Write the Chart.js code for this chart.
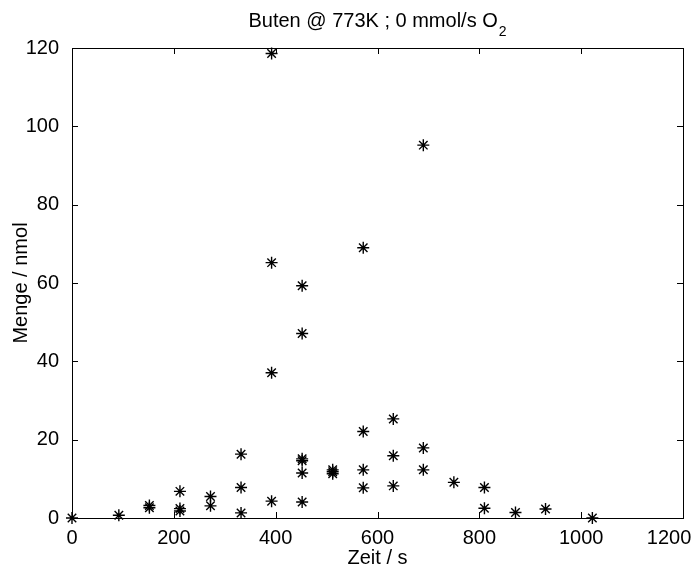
<!DOCTYPE html>
<html>
<head>
<meta charset="utf-8">
<script src="https://cdn.jsdelivr.net/npm/chart.js@4"></script>
<style>
html,body{margin:0;padding:0;background:#fff;}
#wrap{width:696px;height:570px;}
</style>
</head>
<body>
<div id="wrap"><canvas id="c" width="696" height="570"></canvas></div>
<script>
// measured points, time in s / amount in nmol
const zeit=[0,92,152,152,212,212,212,272,272,332,332,332,392,392,392,392,452,452,452,452,452,452,512,512,512,572,572,572,572,631,631,631,690,690,690,750,810,810,871,930,1022];
const menge=[0,0.7,3.2,2.6,6.8,2.4,1.8,5.5,3.1,16.3,7.8,1.3,118.6,65.2,37.1,4.3,59.3,47.1,15.1,14.6,11.5,4.1,12.3,11.8,11.3,69,22.1,12.3,7.7,25.3,15.9,8.2,95.2,17.9,12.3,9.1,7.8,2.5,1.4,2.3,0];
const xTicks=[0,200,400,600,800,1000,1200];
const yTicks=[0,20,40,60,80,100,120];
const titleMain='Buten @ 773K ; 0 mmol/s O';
const titleSub='2';

const FONT="'Liberation Sans', Arial, Helvetica, sans-serif";
const pts=zeit.map((t,i)=>({x:t,y:menge[i]}));

const frame={
 id:'frame',
 afterDraw(chart){
  const ctx=chart.ctx,a=chart.chartArea,xs=chart.scales.x,ys=chart.scales.y;
  ctx.save();
  ctx.strokeStyle='#000';ctx.lineWidth=1;
  ctx.strokeRect(Math.round(a.left)+0.5,Math.round(a.top)+0.5,Math.round(a.right-a.left),Math.round(a.bottom-a.top));
  const tl=6;
  ctx.beginPath();
  xTicks.forEach(v=>{const p=Math.round(xs.getPixelForValue(v))+0.5;
   ctx.moveTo(p,a.bottom);ctx.lineTo(p,a.bottom-tl);ctx.moveTo(p,a.top);ctx.lineTo(p,a.top+tl);});
  yTicks.forEach(v=>{const p=Math.round(ys.getPixelForValue(v))+0.5;
   ctx.moveTo(a.left,p);ctx.lineTo(a.left+tl,p);ctx.moveTo(a.right,p);ctx.lineTo(a.right-tl,p);});
  ctx.stroke();
  // title with subscript
  ctx.fillStyle='#000';ctx.textBaseline='alphabetic';ctx.textAlign='left';
  ctx.font='20px '+FONT;
  const w1=ctx.measureText(titleMain).width;
  ctx.font='14px '+FONT;
  const w2=ctx.measureText(titleSub).width;
  const cx=(a.left+a.right)/2;
  const x0=cx-(w1+w2+1)/2;
  ctx.font='20px '+FONT;
  ctx.fillText(titleMain,x0,27);
  ctx.font='14px '+FONT;
  ctx.fillText(titleSub,x0+w1+1,36);
  ctx.restore();
 }
};

new Chart(document.getElementById('c'),{
 type:'scatter',
 data:{datasets:[{data:pts,pointStyle:'star',pointRadius:6,pointHoverRadius:6,borderColor:'#000',backgroundColor:'#000',borderWidth:1.4,clip:false}]},
 options:{
  responsive:false,animation:false,devicePixelRatio:1,
  layout:{padding:{left:0,right:13,top:48,bottom:0}},
  plugins:{legend:{display:false},tooltip:{enabled:false},title:{display:false}},
  scales:{
   x:{type:'linear',min:0,max:1200,
    grid:{display:false},border:{display:false},
    afterBuildTicks(s){s.ticks=xTicks.map(v=>({value:v}));},
    afterFit(s){s.height=52;s.paddingLeft=0;s.paddingRight=0;},
    // last label is pulled left so it stays inside the figure
    ticks:{color:'#000',font:{family:FONT,size:20},padding:0,maxRotation:0,autoSkip:false,
     callback:v=>v===1200?String(v)+'     ':String(v)},
    title:{display:true,text:'Zeit / s',color:'#000',font:{family:FONT,size:20},padding:{top:1,bottom:0}}},
   y:{type:'linear',min:0,max:120,
    grid:{display:false},border:{display:false},
    afterBuildTicks(s){s.ticks=yTicks.map(v=>({value:v}));},
    afterFit(s){s.width=72;s.paddingTop=0;s.paddingBottom=0;},
    ticks:{color:'#000',font:{family:FONT,size:20},padding:5,autoSkip:false,callback:v=>String(v)},
    title:{display:true,text:'Menge / nmol',color:'#000',font:{family:FONT,size:20},padding:{top:9,bottom:0}}}
  }
 },
 plugins:[frame]
});
</script>
</body>
</html>
